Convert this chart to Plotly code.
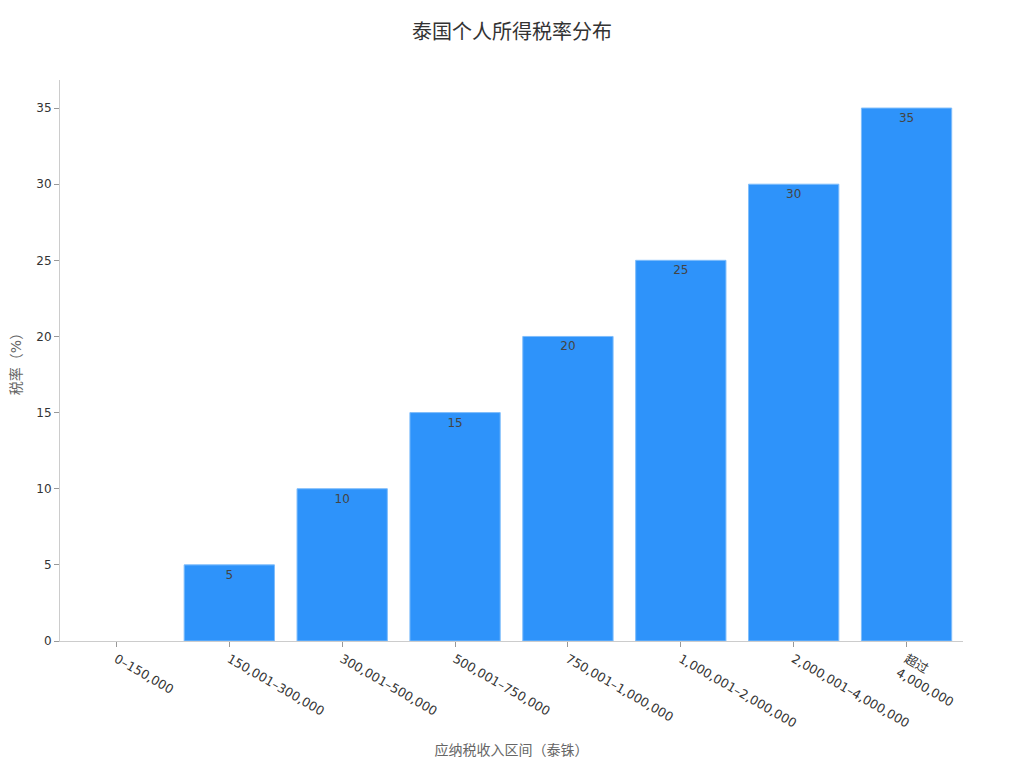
import plotly.graph_objects as go

# 应纳税收入区间 / 税率
brackets = [
    "0–150,000",
    "150,001–300,000",
    "300,001–500,000",
    "500,001–750,000",
    "750,001–1,000,000",
    "1,000,001–2,000,000",
    "2,000,001–4,000,000",
    "超过<br>4,000,000",
]
rates = [0, 5, 10, 15, 20, 25, 30, 35]
rate_labels = ["", "5", "10", "15", "20", "25", "30", "35"]

# no outline on the empty first bar, so nothing shows at 0
outline_widths = [0 if r == 0 else 1 for r in rates]

fig = go.Figure()

fig.add_trace(go.Bar(
    x=brackets,
    y=rates,
    text=rate_labels,
    textposition="inside",
    insidetextanchor="end",
    textfont=dict(size=12, color="#444444"),
    marker=dict(color="#2E93FA", line=dict(color="#7FBDFB", width=outline_widths)),
    hoverinfo="x+y",
))

fig.update_layout(
    title=dict(text="泰国个人所得税率分布", x=0.5, xanchor="center",
               y=0.968, yanchor="middle",
               font=dict(size=20, color="#333333")),
    font=dict(family="DejaVu Sans, Noto Sans CJK SC, sans-serif", size=12, color="#333333"),
    template="plotly_white",
    width=1008,
    height=752,
    margin=dict(l=52, r=53, t=72, b=119),
    bargap=0.2,
    showlegend=False,
)

fig.update_xaxes(
    title=dict(text="应纳税收入区间（泰铢）", font=dict(size=14, color="#666666")),
    automargin=False,
    tickangle=30,
    showgrid=False,
    showline=True,
    linecolor="#CCCCCC",
    ticks="outside",
    tickcolor="#999999",
    ticklen=5,
    tickfont=dict(size=12.5, color="#333333"),
)

fig.update_yaxes(
    title=dict(text="税率（%）", font=dict(size=14, color="#666666")),
    automargin=False,
    showgrid=False,
    zeroline=False,
    showline=True,
    linecolor="#CCCCCC",
    ticks="outside",
    tickcolor="#999999",
    ticklen=5,
    dtick=5,
    tickfont=dict(size=12, color="#333333"),
)

fig.write_html("out.html")
